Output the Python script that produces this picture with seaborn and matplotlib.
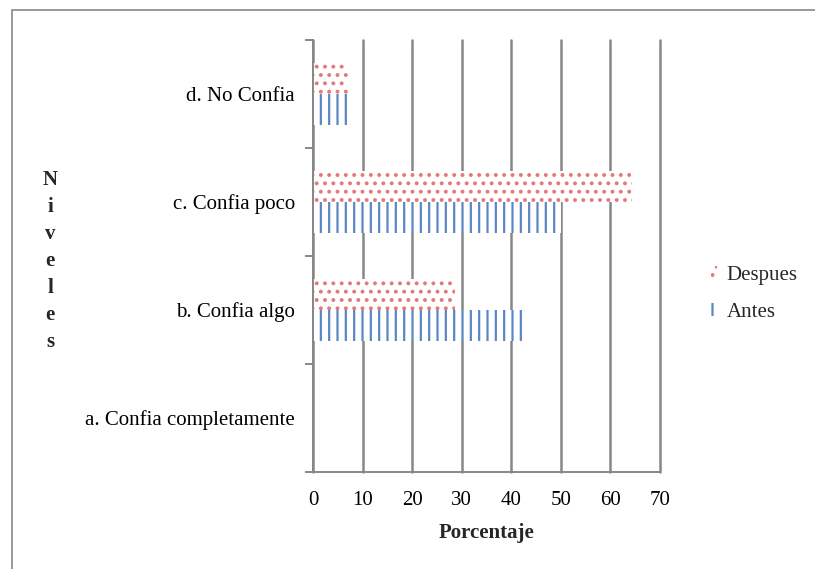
import matplotlib
matplotlib.use("Agg")
import matplotlib.pyplot as plt
import matplotlib.patches as mpatches
from matplotlib.ticker import FixedLocator
import pandas as pd
import seaborn as sns

# Datos (porcentajes, n = 14)
niveles = ['d. No Confia', 'c. Confia poco', 'b. Confia algo', 'a. Confia completamente']
antes = [7.1, 50.0, 42.9, 0.0]
despues = [7.1, 64.3, 28.6, 0.0]
series = ['Despues', 'Antes']

df = pd.DataFrame({
    'Nivel': niveles * 2,
    'Serie': ['Despues'] * len(niveles) + ['Antes'] * len(niveles),
    'Porcentaje': despues + antes,
})

sns.set_theme(style="white")
plt.rcParams['font.family'] = ['Liberation Serif', 'DejaVu Serif']
plt.rcParams['hatch.linewidth'] = 1.6

grid_col = '#878787'
red = '#E27A7A'
blue = '#5B87C4'
fs = 15

fig = plt.figure(figsize=(8.15, 5.69), dpi=100)
ax = fig.add_axes([313 / 815, 1 - 472 / 569, (660 - 313) / 815, (472 - 40) / 569])

sns.barplot(data=df, y='Nivel', x='Porcentaje', hue='Serie', order=niveles,
            hue_order=series, orient='h', width=0.575, ax=ax,
            palette={'Despues': 'white', 'Antes': 'white'}, legend=False)

hatches = {'Despues': '..', 'Antes': '||'}
colors = {'Despues': red, 'Antes': blue}
for cont, name in zip(ax.containers, series):
    for bar in cont:
        bar.set_facecolor('white')
        bar.set_edgecolor(colors[name])
        bar.set_hatch(hatches[name])
        bar.set_linewidth(0)

ax.set_xlim(0, 70)
ax.set_ylim(3.5, -0.5)
ax.set_xticks(range(0, 71, 10))
ax.set_axisbelow(True)
ax.xaxis.grid(True, color=grid_col, linewidth=1.8)
ax.yaxis.grid(False)
for gl in ax.get_xgridlines():
    gl.set_clip_on(False)

for side in ['top', 'right']:
    ax.spines[side].set_visible(False)
for side in ['left', 'bottom']:
    ax.spines[side].set_color(grid_col)
    ax.spines[side].set_linewidth(1.4)

ax.tick_params(axis='x', which='major', length=6, color=grid_col, width=1.4,
               labelsize=fs, pad=8, labelcolor='black')
ax.tick_params(axis='y', which='major', length=0, labelsize=fs, pad=13,
               labelcolor='black')
ax.yaxis.set_minor_locator(FixedLocator([-0.5, 0.5, 1.5, 2.5, 3.5]))
ax.tick_params(axis='y', which='minor', left=True, length=6, color=grid_col, width=1.4)

ax.set_xlabel('Porcentaje', fontsize=fs, fontweight='bold', labelpad=9)
ax.set_ylabel('N\ni\nv\ne\nl\ne\ns', fontsize=fs, fontweight='bold',
              rotation=0, linespacing=1.47, ha='center', va='center')
ax.yaxis.set_label_coords((50 - 313) / (660 - 313), (472 - 261) / (472 - 40))

handles = [mpatches.Patch(facecolor='white', edgecolor=colors[s], hatch=hatches[s],
                          linewidth=0, label=s) for s in series]
fig.legend(handles=handles, loc='center left', bbox_to_anchor=(711 / 815, 1 - 294 / 569),
           frameon=False, fontsize=fs, handlelength=0.3, handleheight=0.6,
           handletextpad=0.45, labelspacing=0.85, borderaxespad=0, borderpad=0)

# marco exterior del grafico
frame = mpatches.Rectangle((12 / 815, -0.05), 1.1, (1 - 10 / 569) + 0.05,
                           transform=fig.transFigure, fill=False,
                           edgecolor=grid_col, linewidth=1.2, clip_on=False)
fig.patches.append(frame)

fig.savefig('out.png', dpi=100, facecolor='white')
